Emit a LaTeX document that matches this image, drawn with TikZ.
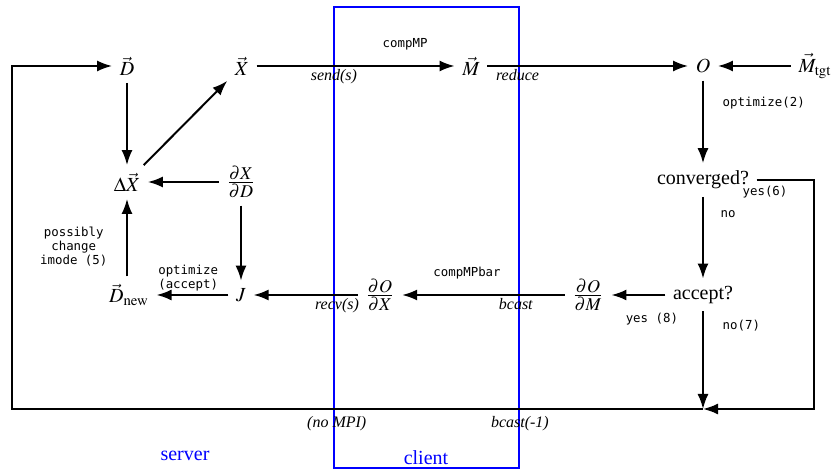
\documentclass[tikz,border=0pt]{standalone}
\usepackage{mathptmx}
\usepackage{fontspec}
\setmainfont{Liberation Serif}
\setmonofont{DejaVu Sans Mono}
\usetikzlibrary{arrows.meta}
\tikzset{every path/.style={line width=1pt}}
\tikzset{>={Latex[length=7.5pt,width=5.5pt]}}
\tikzset{code/.style={font=\fontsize{6.2}{7}\ttfamily, align=center},
  mpi/.style={font=\footnotesize\itshape, inner sep=1pt},
  frac/.style={font=\large},
  side/.style={blue, font=\normalsize}}

\begin{document}
\begin{tikzpicture}[x=0.5pt, y=-0.5pt]
    \useasboundingbox (0,0) rectangle (837,470);

    % client box
    \draw[blue, line width=0.6pt] (334,7) rectangle (519,468);
    \node[side] (server) at (185,456) {server};
    \node[side] (client) at (426,458) {client};

    % server side
    \node (D) at (127,66) {$\vec D$};
    \node (X) at (242,66) {$\vec X$};
    \node (dX) at (127,182) {$\Delta\vec X$};
    \node[frac] (dXdD) at (241,182) {$\frac{\partial X}{\partial D}$};
    \node (J) at (241,295) {$J$};
    \node (Dnew) at (129,295) {$\vec D_{\mathrm{new}}$};

    % client side
    \node (M) at (471,66) {$\vec M$};
    \node (O) at (703,66) {$O$};
    \node (Mtgt) at (815,66) {$\vec M_{\mathrm{tgt}}$};
    \node (conv) at (703,180) {converged?};
    \node (acc) at (703,295) {accept?};
    \node[frac] (dOdM) at (588,295) {$\frac{\partial O}{\partial M}$};
    \node[frac] (dOdX) at (380,295) {$\frac{\partial O}{\partial X}$};
    \node[code] (yes6) at (765,192) {yes(6)};

    \coordinate (bl) at (12,409);
    \coordinate (tl) at (12,66);
    \coordinate (join) at (703,409);

    \draw[->] (D) -- (dX);
    \draw[->] (dX) -- (X);
    \draw[->] (dXdD) -- (dX);
    \draw[->] (dXdD) -- (J);
    \draw[->] (J) -- node[code, above, inner sep=1.5pt, pos=0.56] {optimize\\(accept)} (Dnew);
    \draw[->] (Dnew.north -| dX) -- node[code, left=6pt, pos=0.39] {possibly\\change\\imode (5)} (dX);

    \draw[->] (X) -- node[code, above=4pt, pos=0.75] {compMP}
      node[mpi, below, pos=0.39] {send(s)} (M);
    \draw[->] (M) -- node[mpi, below, pos=0.15] {reduce} (O);
    \draw[->] (Mtgt) -- (O);
    \draw[->] (O) -- node[code, right=6pt, pos=0.27] {optimize(2)} (conv);
    \draw[->] (conv) -- node[code, right=5pt, pos=0.21] {no} (acc);
    \draw[->] (acc) -- node[code, below=5pt, pos=0.25] {yes (8)} (dOdM);
    \draw[->] (dOdM) -- node[code, above=4pt, pos=0.6] {compMPbar}
      node[mpi, below, pos=0.3] {bcast} (dOdX);
    \draw[->] (dOdX) -- node[mpi, below, pos=0.2] {recv(s)} (J);
    \draw[->] (acc) -- node[code, right=6pt, pos=0.15] {no(7)} (join);

    \draw[->] (conv.east) -- ++(57,0) |- (join);
    \draw[->] (join) -- node[mpi, below=2pt, pos=0.265] {bcast(-1)}
      node[mpi, below=2pt, pos=0.53] {(no MPI)} (bl) |- (tl) -- (D);
\end{tikzpicture}
\end{document}
